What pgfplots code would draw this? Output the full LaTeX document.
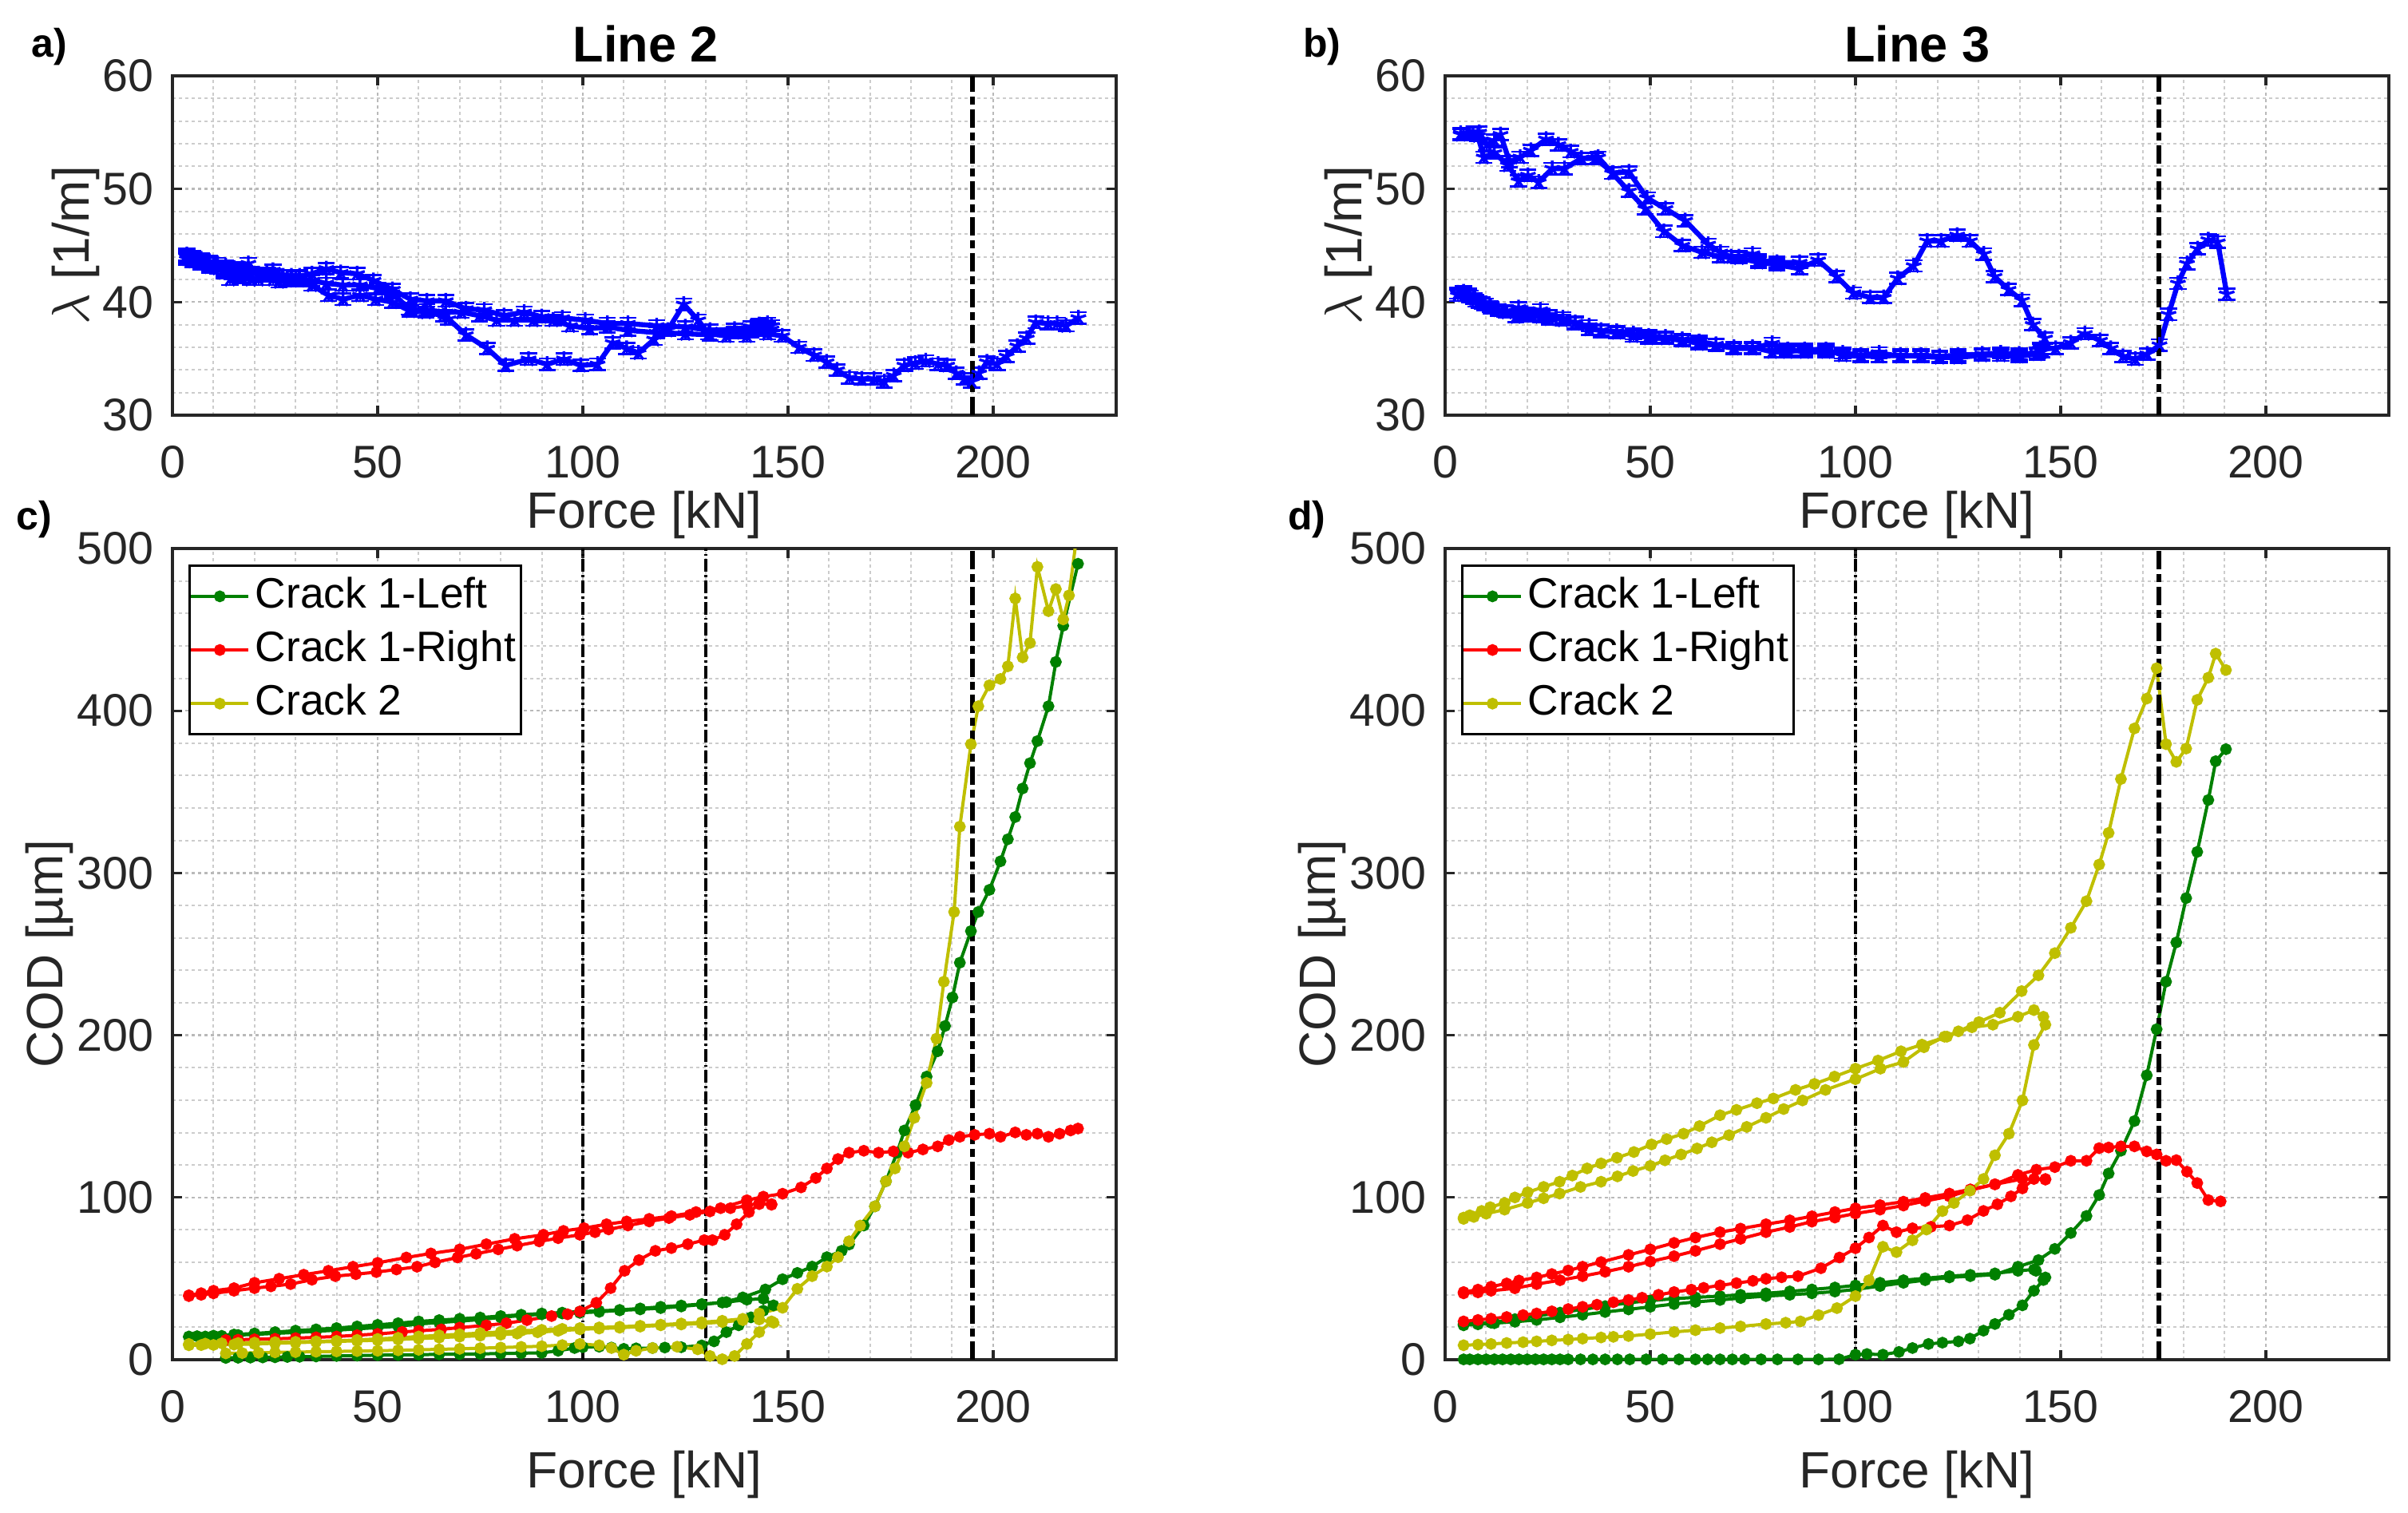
\documentclass[border=0pt]{standalone}
\usepackage{pgfplots}
\pgfplotsset{compat=1.18}
\usepackage{fontspec}
\setmainfont{Liberation Sans}
\definecolor{mgreen}{rgb}{0,0.5,0}
\definecolor{mred}{rgb}{1,0,0}
\definecolor{myellow}{rgb}{0.75,0.75,0}
\definecolor{mblue}{rgb}{0,0,1}
\definecolor{axgray}{rgb}{0.15,0.15,0.15}
\pgfplotsset{
  base/.style={
    scale only axis, width=177.3bp,
    xmin=0, xmax=230, xtick={0,50,100,150,200}, minor x tick num=4,
    grid=both,
    major grid style={draw=gray!55, line width=0.35bp, dash pattern=on 0.6bp off 0.6bp},
    minor grid style={draw=gray!40, line width=0.3bp, dash pattern=on 0.6bp off 0.6bp},
    axis line style={draw=axgray, line width=0.5bp},
    tick style={draw=axgray, line width=0.5bp},
    major tick length=1.8bp, minor tick length=0pt, tick align=inside,
    /pgf/number format/assume math mode=true,
    tick label style={font=\fontsize{8.6bp}{10bp}\selectfont, text=axgray},
    xticklabel style={yshift=-2.2bp},
    label style={font=\fontsize{9.6bp}{11bp}\selectfont, text=axgray},
    xlabel={Force [kN]},
  },
  top/.style={base, height=63.75bp, ymin=30, ymax=60, ytick={30,40,50,60}, minor y tick num=4,
    ylabel={$\lambda$ [1/m]},
    xlabel style={at={(axis description cs:0.5,-0.333)}, anchor=base},
    ylabel style={at={(axis description cs:-0.0886,0.5)}, anchor=base},
  },
  bot/.style={base, height=152.4bp, ymin=0, ymax=500, ytick={0,100,200,300,400,500}, minor y tick num=4,
    ylabel={COD [µm]},
    xlabel style={at={(axis description cs:0.5,-0.1575)}, anchor=base},
    ylabel style={at={(axis description cs:-0.116,0.5)}, anchor=base},
    legend style={at={(rel axis cs:0.017,0.98)}, anchor=north west, draw=black, line width=0.4bp,
      font=\fontsize{8bp}{9.5bp}\selectfont, inner xsep=0bp, inner ysep=0.1bp, row sep=-1.2bp,
      nodes={inner xsep=1.0bp}, cells={anchor=west}},
    legend image code/.code={\draw[mark repeat=2,mark phase=2] plot coordinates {(0cm,0cm)(0.19cm,0cm)(0.38cm,0cm)};},
  },
  lam/.style={color=mblue, line width=0.95bp, mark=star, mark size=1.5bp, mark options={line width=0.5bp},
    error bars/.cd, y dir=both, y fixed=0.5, error bar style={line width=0.4bp}, error mark options={rotate=90, mark size=1.6bp, line width=0.4bp}},
  cod/.style={line width=0.6bp, mark=*, mark size=0.8bp},
  thickdash/.style={black, line width=0.95bp, dash pattern=on 3.45bp off 0.9bp on 1.5bp off 0.9bp, forget plot},
  thindd/.style={black, line width=0.5bp, dash pattern=on 2.4bp off 0.6bp on 0.4bp off 0.6bp, forget plot},
}
\begin{document}
\begin{tikzpicture}
% ---------------- a) Line 2 ----------------
\begin{axis}[top, at={(32.4bp,206.1bp)}, anchor=south west]
\addplot+[lam] coordinates {(3.5,44.2) (5,44.0) (7,43.8) (9,43.6) (11,43.4) (13,43.2) (15,43.0) (17,42.8) (19,42.6) (21,42.5) (23,42.5) (25,42.4) (27,42.3) (29,42.3) (31,42.3) (34,42.5) (37.5,42.95) (41,42.6) (45,42.5) (49,41.9) (53.6,41.1) (58,40.25) (62,40.1) (66.6,40.1) (71.5,39.4) (76,39.3) (80.8,38.8) (85.7,39.1) (90,38.7) (95,38.6) (100.6,38.4) (106,38.1) (111,38.1) (118,37.9) (125,37.8) (131,37.5) (137,37.6) (141,37.8) (143,38.0) (145,38.1) (146,37.9)};
\addplot+[lam] coordinates {(3.5,44.0) (5,43.8) (7,43.5) (9,43.2) (11,43.0) (12.5,42.8) (14.5,42.5) (16.5,42.9) (18.5,43.4) (21,42.3) (23,42.5) (24.5,42.8) (26,42.3) (28,42.0) (30,42.2) (31,42.0) (34,41.9) (37.5,41.65) (41.5,41.5) (45.7,41.5) (50,41.2) (53.6,40.8) (57.7,39.4) (62,39.3) (66.6,39.1) (70.4,39.1) (74.8,38.8) (79,38.4) (83.4,38.4) (88,38.4) (92.8,38.4) (96.9,37.9) (101.7,37.65) (106,37.8) (111,37.5) (118,37.3) (125,37.2) (131,37.1) (137,37.3) (141,37.4) (143,37.5) (145,37.8) (146,37.6)};
\addplot+[lam] coordinates {(3.5,43.8) (5,43.6) (7,43.4) (9,43.1) (11,43.0) (12.5,42.6) (14,42.0) (16,42.3) (17,42.2) (19,42.0) (21,42.0) (23,42.3) (24.5,42.0) (26,41.8) (28,41.9) (31,41.9) (34,41.5) (38,40.6) (41.6,40.25) (45.7,40.6) (49.5,40.25) (53.6,40.0) (58,39.2) (61.8,39.1) (66,38.8) (67.3,38.5) (71.5,37.1) (76.7,35.9) (81.2,34.4) (86.8,34.95) (91.3,34.5) (95.4,34.95) (99.5,34.4) (103.6,34.5) (107.3,36.4) (110.7,35.9) (113.6,35.5) (117.4,36.7) (120.7,37.5) (124.6,39.8) (128.1,38.4) (130.7,37.2) (135,37.0) (140,37.0) (145,37.2) (148.6,37.0) (152.7,36.0) (156.4,35.3) (159.4,34.7) (162,34.0) (165,33.3) (168,33.2) (171,33.2) (173.5,32.95) (175.8,33.5) (178.4,34.4) (181,34.6) (183.6,34.8) (186.6,34.5) (188.8,34.4) (191,33.7) (192.9,33.2) (194.8,32.95) (196.6,33.7) (198.5,34.7) (201,34.5) (203.3,35.2) (205.9,36.1) (208.2,36.8) (210.4,38.2) (213.4,38.1) (215.6,38.1) (217.8,37.9) (220.8,38.6)};
\addplot[thickdash] coordinates {(195,30) (195,60)};
\end{axis}
% ---------------- b) Line 3 ----------------
\begin{axis}[top, at={(271.5bp,206.1bp)}, anchor=south west]
\addplot+[lam] coordinates {(3.8,54.9) (5.3,54.9) (6.8,54.9) (8.3,55.0) (10.1,53.9) (12,54.3) (13.5,54.8) (15.7,52.4) (18.3,52.8) (20.9,53.4) (24.6,54.4) (27.6,53.9) (30.6,53.3) (33.2,52.7) (36.6,52.7) (41,51.4) (44.8,51.5) (49.2,49.2) (53.7,48.25) (58.5,47.2) (64.1,45.1) (67.1,44.4) (69.7,44.0) (71.6,44.0) (74.9,44.25) (76.4,43.7) (80.9,43.5) (86.4,43.5)};
\addplot+[lam] coordinates {(3.8,54.8) (6,54.9) (8,54.7) (9.4,52.8) (12,53.2) (15.3,52.1) (17.9,50.7) (20.2,51.2) (22.8,50.6) (26.1,51.8) (29.1,51.8) (33.2,52.7) (37.3,52.8) (40.7,51.4) (44.8,49.8) (48.8,48.25) (53.3,46.25) (57.8,45.0) (62.6,44.4) (67.1,44.0) (71.6,43.9) (76.4,43.5) (80.9,43.3) (86.4,42.95) (90.9,43.7) (95.4,42.25) (99.5,40.8) (103.6,40.4) (106.9,40.4) (110.3,42.1) (114.2,43.2) (117.5,45.4) (120.9,45.4) (124.8,45.9) (127.9,45.4) (131.3,44.25) (133.9,42.25) (137.3,41.1) (140.6,40.15) (143.2,38.0) (146.2,36.8) (145.1,35.8)};
\addplot+[lam] coordinates {(3.1,40.8) (4.5,40.9) (5.7,40.7) (7,40.3) (8.3,40.0) (9.7,39.8) (11.2,39.5) (12.9,39.3) (14.6,39.2) (17.2,38.7) (19.5,38.8) (21.3,38.8) (23.2,38.7) (25.4,38.5) (28.7,38.6) (31.7,38.1) (35.1,37.9) (38,37.4) (41.8,37.4) (45.9,37.2) (49.6,36.8) (53.7,36.8) (57.8,36.6) (61.9,36.5) (66,36.25) (70.4,36.0) (74.9,36.0) (79.7,35.6) (83.5,35.6) (87.6,35.8) (92.8,35.8) (96.9,35.3) (101.3,35.2) (105.8,35.2) (111,35.3) (116,35.2) (120.5,35.1) (125,35.1) (130.9,35.3) (135.4,35.3) (139.9,35.2) (144.3,35.4) (145.5,35.6)};
\addplot+[lam] coordinates {(3.1,40.6) (4.5,40.8) (6,40.5) (7.5,40.1) (9,39.9) (11,39.6) (13,39.3) (15,39.1) (17.9,39.5) (20,39.0) (23.2,39.3) (25.4,38.8) (28.7,38.4) (31.7,38.2) (35.1,37.6) (38,37.5) (41.8,37.3) (45.9,37.0) (49.6,37.0) (53.7,36.9) (57.8,36.7) (61.9,36.3) (66,36.2) (70.4,35.9) (74.9,35.9) (79.7,36.35) (83.5,35.8) (87.6,35.6) (92.8,35.6) (96.9,35.5) (101.3,35.3) (105.8,35.5) (111,35.2) (116,35.3) (120.5,35.2) (125,35.3) (130.9,35.4) (135.4,35.5) (139.9,35.4) (144.3,35.5) (145,35.9) (148.8,35.9) (152.5,36.4) (155.9,37.2) (159.6,36.6) (162.2,35.9) (165.2,35.2) (168.2,34.95) (171.1,35.4) (174.1,36.2) (176.3,38.9) (178.6,41.65) (180.8,43.4) (183.4,44.7) (186,45.5) (188.3,45.3) (190.5,40.7)};
\addplot[thickdash] coordinates {(174,30) (174,60)};
\end{axis}
% ---------------- c) ----------------
\begin{axis}[bot, at={(32.4bp,28.65bp)}, anchor=south west]
\addplot[cod, color=mgreen] coordinates {(13,1.1) (16,1.2) (19,1.3) (22,1.4) (25,1.5) (28,1.7) (31,1.8) (35,2.0) (40,2.3) (45,2.5) (50,2.8) (55,2.9) (60,3.1) (65,3.3) (70,3.4) (75,3.6) (80,3.8) (85,4.0) (90,4.2) (94,5.5) (98,7.2) (100,7.7) (104,8.0) (107,7.5) (110,6.7) (113,7.0) (117,7.2) (120,7.5) (124,7.7) (129,8.8) (132,11.3) (135,17.0) (138,21.2) (141,26.1) (144,30.2) (146.5,33.5) (144,37.6) (140,37.0) (135,35.5) (129,34.3) (124,33.4) (119,32.6) (114,31.6) (109,30.7) (104,30.1) (99.3,29.7) (95,29.0) (90,28.5) (85,27.7) (80,26.9) (75,26.0) (70,25.2) (65,24.4) (60,23.6) (55,22.5) (50,21.5) (45,20.5) (40,19.5) (35,18.7) (30,17.9) (25,17.0) (20,16.2) (15,15.5) (10,14.8) (6,14.5) (4,14.3) (4,14.0) (8,14.3) (12,14.7) (16,15.2) (20,15.6) (25,16.2) (30,16.8) (35,17.5) (40,18.2) (45,19.0) (50,19.8) (55,20.6) (60,22.0) (65,22.9) (70,23.8) (75,24.7) (80,26.1) (85,27.2) (90,28.0) (95,28.5) (99.3,28.9) (104,29.5) (109,30.4) (114,31.0) (119,31.8) (124,32.8) (129,34.0) (134,35.2) (139,38.4) (144.5,43.3) (148.7,49.6) (152.3,53.5) (155.9,57.4) (159.5,63.2) (163.1,67.1) (164.9,71) (168.5,82.7) (171.2,94.5) (173.9,110) (176.6,127.6) (178.4,141.3) (181.1,156.9) (183.8,174.5) (186.5,190.1) (188.3,205.7) (190.1,223.3) (191.9,244.7) (194.6,264.2) (196.4,276) (199.1,289.6) (201.8,307.2) (203.6,320.8) (205.4,334.5) (207.2,352.1) (209,367.7) (210.8,381.3) (213.5,402.8) (215.3,430.1) (217.1,452.4) (220.7,490.6)};
\addlegendentry{Crack 1-Left}
\addplot[cod, color=mred] coordinates {(13,12.1) (16,12.3) (20,12.6) (25,12.9) (30,13.3) (35,13.8) (40,14.3) (45,15.1) (50,15.9) (56,17.1) (60,17.8) (65.5,18.7) (70,19.8) (76.5,21.2) (81.4,22.5) (86.4,24.4) (92.4,26.9) (96.3,28.0) (99.3,29.7) (103.3,35.1) (106.8,44.1) (110.2,54.8) (113.7,61.4) (117.7,67.1) (121.6,68.8) (125.6,71.2) (129.6,73.7) (131.6,73.7) (134.6,77.0) (137.5,83.5) (140.5,91.0) (143,95.9) (146,95.9) (146,95.5) (143,96.7) (140,94.8) (136,93.4) (131,91.4) (126.1,89.3) (121,87.3) (116.2,85.2) (111,82.7) (106.3,80.3) (103,78.6) (99.3,77.0) (94,74.9) (89.4,72.9) (84,70.3) (79.4,68.0) (74,65.3) (69.5,63.0) (64,60.0) (59.6,57.3) (54.6,55.6) (49.7,54.0) (44.7,52.7) (39.7,51.5) (34,49.3) (28.8,46.6) (24,45.2) (20,44.1) (15,42.5) (10,40.9) (7,40.0) (4,39.2) (4,39.7) (7,41.0) (10,42.5) (15,44.1) (20,47.4) (26,49.9) (32,52.4) (38,54.8) (44,57.3) (50,59.7) (57,63.0) (63,65.5) (70,68.0) (76.5,71.2) (83.4,74.5) (90.4,77.0) (95.3,79.4) (100.3,81.1) (105.8,83.5) (110.7,85.2) (116.2,86.8) (121.6,88.5) (127.6,91.0) (133.6,93.4) (140,98.3) (144,100.5) (148.7,102.3) (153.2,106.2) (156.8,112) (159.5,117.9) (162.2,123.7) (164.9,127.6) (168.5,128.8) (172.1,127.6) (175.7,128.4) (179.3,127.6) (182.9,129.6) (186.5,131.5) (189.2,135.4) (191.9,137.4) (195.5,138.6) (199.1,139.3) (201.8,137.4) (205.4,140.1) (208.1,138.6) (210.8,139.3) (213.5,137.4) (216.2,139.3) (218.9,141.3) (220.7,142.5)};
\addlegendentry{Crack 1-Right}
\addplot[cod, color=myellow] coordinates {(13,3.9) (17,4.1) (21,4.3) (25,4.5) (30,4.7) (35,4.9) (40,5.1) (45,5.3) (50,5.5) (55,5.8) (60,6.1) (65,6.4) (70,6.7) (75,7.1) (80,7.5) (85,7.9) (90,8.3) (95,9.0) (99.3,9.7) (104,8.9) (107,7.2) (110,3.1) (113,5.5) (117,7.2) (123,8.0) (128,6.4) (131,2.3) (134,0.3) (137,2.3) (140,9.7) (143,17.0) (146,23.6) (146.5,22.8) (143,24.8) (139,24.4) (134,23.2) (129,22.3) (124,21.7) (119,21.2) (114,20.4) (109,19.7) (104,19.2) (99.3,18.7) (94,17.8) (89,16.9) (84,16.1) (80,15.4) (75,14.8) (70,14.2) (65,13.6) (60,13.0) (55,12.5) (50,12.0) (45,11.6) (40,11.3) (35,10.9) (30,10.5) (25,10.1) (20,9.7) (15,9.3) (10,9.1) (7,9.0) (4,8.9) (4,9.7) (8,9.9) (12,10.1) (16,10.3) (20,10.5) (25,10.8) (30,11.0) (35,11.3) (40,11.6) (45,12.2) (50,12.8) (55,13.5) (60,14.3) (65,15.0) (70,15.7) (75,16.4) (80,17.1) (85,17.8) (90,18.4) (95,19.0) (99.3,19.5) (104,19.9) (109,20.3) (114,20.9) (119,21.6) (124,22.3) (129,23.1) (134,24.0) (139,25.2) (143,28.5) (148.7,32) (152.3,43.7) (155.9,51.5) (159.5,57.4) (162.2,63.2) (164.9,73) (167.6,82.7) (171.2,94.5) (173.9,110) (176.1,117.9) (178.4,131.5) (180.8,149.1) (183.8,170.6) (186.2,197.9) (188,233) (190.5,276) (191.9,328.6) (194.6,379.4) (196.4,402.8) (199.1,415.7) (201.8,419.6) (203.6,427.4) (205.4,469.2) (207.2,432.9) (209,441.8) (210.8,488.7) (213.5,461.4) (215.3,475) (217.1,456.3) (218.5,471.1) (220.5,510)};
\addlegendentry{Crack 2}
\addplot[thindd] coordinates {(100,0) (100,500)};
\addplot[thindd] coordinates {(130,0) (130,500)};
\addplot[thickdash] coordinates {(195,0) (195,500)};
\end{axis}
% ---------------- d) ----------------
\begin{axis}[bot, at={(271.5bp,28.65bp)}, anchor=south west]
\addplot[cod, color=mgreen] coordinates {(4.5,0.2) (6,0.2) (8,0.2) (10,0.2) (12,0.2) (14,0.2) (16,0.2) (18,0.2) (20,0.2) (22,0.2) (24,0.2) (26,0.2) (28,0.2) (30,0.2) (33,0.2) (36,0.2) (39,0.2) (42,0.2) (45,0.2) (49,0.2) (53,0.2) (57,0.2) (61,0.2) (64,0.2) (67,0.2) (70,0.2) (73,0.2) (77,0.2) (81,0.2) (86,0.2) (91,0.2) (96,0.3) (100,3.1) (102.8,3.5) (106.7,3.1) (110.6,4.8) (113.9,7.2) (117.8,9.7) (121.2,10.5) (125.1,11.3) (127.9,13) (131.2,17.9) (134,22) (137.4,27.7) (140.7,33.5) (143.5,42.5) (145.8,49.1) (146.3,50.7) (144,54.8) (143.5,55.6) (139.6,54.8) (134,53.2) (128,52.3) (122.9,51.5) (117,50.2) (111.7,49.0) (106,47.4) (100,45.8) (95,44.5) (89.4,43.3) (84,42.1) (78.2,40.9) (72,40.0) (67,39.2) (61,38.4) (55.8,37.6) (50,36.4) (44.7,35.1) (39,33.0) (33.5,31.0) (28,29.0) (22.3,26.9) (17,25.0) (11.2,22.8) (8,22.4) (4.5,22.0) (4.5,21.2) (8,21.8) (12,22.5) (17,23.4) (22.3,24.5) (28,26.1) (33.5,27.7) (39,29.4) (44.7,31.0) (50,32.6) (55.8,34.3) (61,35.6) (67,36.8) (72,38.0) (78.2,39.2) (84,40.0) (89.4,40.9) (95,42.0) (100,43.3) (106,45.4) (111.7,47.4) (117,49.0) (122.9,50.7) (128,51.5) (134,52.4) (139.6,57.3) (144.6,61.4) (148.6,68.3) (152.5,78.1) (156.3,88.6) (159.4,101.5) (161.7,114.8) (164.7,128.8) (168,147.1) (171,175.3) (173.4,203.7) (175.7,233) (178.2,257.2) (180.6,284.5) (183.3,313) (186,345) (187.8,368.9) (190.3,376.3)};
\addlegendentry{Crack 1-Left}
\addplot[cod, color=mred] coordinates {(4.5,23.6) (8,24.5) (11.2,25.3) (15,26.3) (19,27.5) (22.3,28.5) (26,29.8) (30,31.2) (33.5,32.6) (37,33.9) (41,35.4) (44.7,36.8) (48,38.2) (52,40.0) (55.8,41.7) (60,43.2) (63,44.3) (67,45.8) (71,47.2) (75,48.6) (78.2,49.9) (82,50.8) (86,51.5) (91.6,56.4) (96.1,63) (100,68.7) (103.3,75.3) (106.7,82.7) (110,78.6) (113.9,81) (118.4,81.9) (122.9,82.7) (127.3,86) (131.2,91.7) (134.6,95.8) (137.9,100.7) (140.7,105.6) (143.5,111.4) (146.3,111.4) (146.3,111.0) (140.7,111.4) (134,108.1) (128,104.5) (122.9,100.7) (117,97.8) (111.7,95) (106,92.5) (100,90.1) (95,87.6) (89.4,85.1) (84,81.8) (78.2,78.6) (72,74.5) (67,71.2) (61,67.1) (55.8,63.8) (50,60.5) (44.7,57.3) (39,54.2) (33.5,51.5) (28,49.0) (22.3,46.6) (17,44.0) (11.2,42.5) (8,41.5) (4.5,40.9) (4.5,41.7) (8,43.2) (11.2,45) (15,47.0) (18,48.8) (22.3,50.7) (26,52.8) (30,55.0) (33.5,57.3) (38,60.2) (44.7,64.6) (50,68.0) (55.8,72) (61,75.3) (67,78.6) (72,80.8) (78.2,83.5) (84,85.9) (89.4,88.4) (95,91.0) (100,93.3) (106,95.3) (111.7,97.4) (117,99.7) (122.9,102.4) (128,105.0) (134,108.1) (139.6,113.9) (144.1,117.1) (148.6,118.7) (152.5,122.6) (156.3,122.6) (159.4,130.4) (161.7,130.8) (164.7,131.5) (168,131.5) (171,128.4) (173.4,126.5) (175.7,122.6) (178.2,123) (180.8,115.9) (183.3,108.9) (186,98.4) (189,97.6)};
\addlegendentry{Crack 1-Right}
\addplot[cod, color=myellow] coordinates {(4.5,8.9) (8,9.3) (11.2,9.7) (15,10.3) (19,10.8) (22.3,11.3) (26,11.9) (30,12.4) (33.5,13) (38,13.7) (41,14.1) (44.7,14.6) (50,15.8) (55.8,17.1) (61,18.2) (67,19.5) (72,20.5) (78.2,22) (83,22.8) (86.6,23.6) (91,27.5) (95.5,31.8) (100,39.2) (103.3,49) (106.7,69.6) (110,66.3) (113.9,73.6) (117.3,80.2) (121.2,91.6) (124,96.6) (127.9,104.2) (131.2,111.4) (134,126) (137.4,139.3) (140.7,159.8) (143.5,194) (146.3,206.5) (145.8,211.4) (143.5,215.5) (139.6,211.4) (133.5,206.5) (128.4,204.9) (122.3,199.1) (116.2,194.2) (111.1,190.1) (105.5,184.4) (100,179.4) (94.9,174.5) (90,170) (85.4,166.3) (80,161) (76,158.1) (71,154) (67,150.7) (62,144) (58.1,139.3) (54,136) (50.3,132.7) (46,128) (41.9,124.5) (38,121) (34.6,117.9) (31,113.5) (27.9,109.7) (24,106.5) (20.1,103.2) (17,100) (14.5,96.6) (11,94) (8.9,91.7) (6,89) (4.5,87.6) (4.5,86.8) (7,88) (10,90) (14.5,92.5) (20.1,96.6) (24,99.5) (27.9,102.4) (33,106.5) (38,109.7) (42,113) (45.8,116.3) (50,119.5) (53.6,122.9) (57.5,126.5) (61.4,130.2) (65,134) (69.2,138.4) (73.5,143.5) (78.2,149.1) (82.5,154.5) (87.1,159.8) (92.7,166.3) (100,172.9) (106.1,179.4) (111.7,183.5) (116.7,192.6) (121.7,199.1) (125.1,202.4) (130.1,208.1) (135.2,213.9) (140.5,227.2) (144.6,236.9) (148.6,250.6) (152.5,266.2) (156.3,282.6) (159.4,305.2) (161.7,324.7) (164.7,357.9) (168,389.1) (171,407.5) (173.4,426.2) (175.7,379.4) (178.2,368.5) (180.6,376.7) (183.3,406.7) (186,420.4) (187.8,435.2) (190.3,425.1)};
\addlegendentry{Crack 2}
\addplot[thindd] coordinates {(100,0) (100,500)};
\addplot[thickdash] coordinates {(174,0) (174,500)};
\end{axis}
% titles
\node[anchor=base, inner sep=0pt, font=\bfseries\fontsize{9.45bp}{11bp}\selectfont] at (121.35bp,272.4bp) {Line 2};
\node[anchor=base, inner sep=0pt, font=\bfseries\fontsize{9.45bp}{11bp}\selectfont] at (360.2bp,272.4bp) {Line 3};
% panel letters
\node[anchor=base west, inner sep=0pt, font=\bfseries\fontsize{7.5bp}{9bp}\selectfont] at (5.7bp,273.3bp) {a)};
\node[anchor=base west, inner sep=0pt, font=\bfseries\fontsize{7.5bp}{9bp}\selectfont] at (244.65bp,273.3bp) {b)};
\node[anchor=base west, inner sep=0pt, font=\bfseries\fontsize{7.5bp}{9bp}\selectfont] at (2.85bp,184.5bp) {c)};
\node[anchor=base west, inner sep=0pt, font=\bfseries\fontsize{7.5bp}{9bp}\selectfont] at (241.8bp,184.5bp) {d)};
\pgfresetboundingbox
\useasboundingbox (0,0) rectangle (452.4bp,284.1bp);
\end{tikzpicture}
\end{document}
